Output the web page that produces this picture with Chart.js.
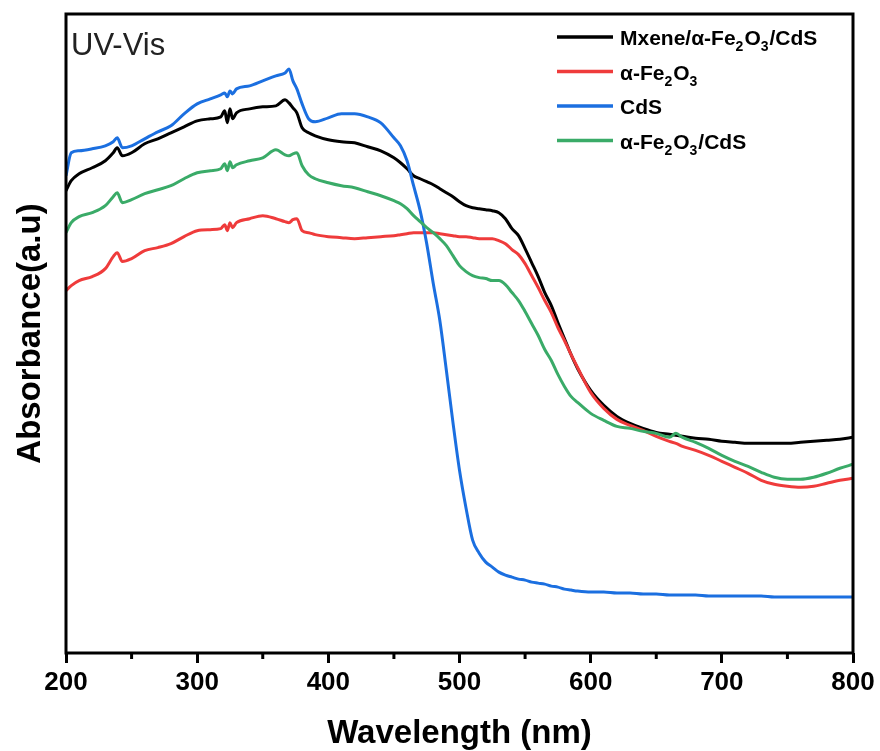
<!DOCTYPE html>
<html>
<head>
<meta charset="utf-8">
<script src="https://cdn.jsdelivr.net/npm/chart.js@4.4.1/dist/chart.umd.min.js"></script>
<style>
  html, body { margin: 0; padding: 0; background: #fff; }
  #wrap { width: 880px; height: 751px; }
</style>
</head>
<body>
<div id="wrap"><canvas id="uvChart" width="880" height="751"></canvas></div>
<script>
// wavelength grid (nm)
const wavelength = [200, 204, 210, 220, 230, 236, 239, 243, 250, 260, 270, 280, 290, 300, 310, 318, 321, 323, 325, 327,
    330, 340, 350, 360, 367, 370, 373, 376, 380, 385, 390, 400, 410, 420, 430, 440, 450, 455, 460, 465,
    470, 475, 480, 485, 490, 495, 500, 505, 510, 515, 520, 525, 530, 535, 540, 545, 550, 555, 560, 565,
    570, 575, 580, 585, 590, 600, 610, 620, 630, 640, 650, 660, 665, 670, 680, 690, 700, 710, 720, 730,
    740, 750, 760, 770, 780, 790, 800];

// absorbance (a.u.)
const absMxene = [2.315, 2.365, 2.40, 2.43, 2.465, 2.505, 2.53, 2.49, 2.505, 2.55, 2.575, 2.605, 2.635, 2.665, 2.675, 2.685, 2.715, 2.655, 2.725, 2.675,
    2.705, 2.725, 2.735, 2.74, 2.77, 2.755, 2.73, 2.705, 2.63, 2.605, 2.59, 2.57, 2.56, 2.555, 2.535, 2.515, 2.48, 2.455, 2.425, 2.39,
    2.375, 2.36, 2.345, 2.325, 2.305, 2.285, 2.26, 2.24, 2.23, 2.225, 2.22, 2.215, 2.205, 2.175, 2.125, 2.09, 2.025, 1.955, 1.885, 1.805,
    1.74, 1.655, 1.575, 1.495, 1.425, 1.315, 1.24, 1.185, 1.15, 1.125, 1.105, 1.095, 1.09, 1.085, 1.075, 1.07, 1.06, 1.055, 1.05, 1.05,
    1.05, 1.05, 1.055, 1.06, 1.065, 1.07, 1.08];

const absFe2O3 = [1.815, 1.84, 1.865, 1.885, 1.925, 1.985, 2.005, 1.96, 1.975, 2.015, 2.03, 2.05, 2.085, 2.115, 2.12, 2.125, 2.145, 2.115, 2.155, 2.13,
    2.155, 2.175, 2.19, 2.175, 2.16, 2.155, 2.17, 2.175, 2.115, 2.105, 2.095, 2.085, 2.08, 2.075, 2.08, 2.085, 2.09, 2.095, 2.10, 2.105,
    2.105, 2.105, 2.105, 2.10, 2.095, 2.09, 2.085, 2.085, 2.08, 2.075, 2.075, 2.075, 2.065, 2.05, 2.02, 1.995, 1.95, 1.89, 1.83, 1.765,
    1.705, 1.63, 1.565, 1.495, 1.43, 1.305, 1.225, 1.17, 1.14, 1.115, 1.085, 1.06, 1.05, 1.035, 1.015, 0.99, 0.96, 0.93, 0.90, 0.865,
    0.845, 0.835, 0.83, 0.835, 0.85, 0.865, 0.875];

const absCdS = [2.39, 2.505, 2.515, 2.525, 2.54, 2.56, 2.58, 2.53, 2.54, 2.575, 2.61, 2.64, 2.70, 2.75, 2.775, 2.795, 2.805, 2.785, 2.815, 2.80,
    2.825, 2.84, 2.865, 2.89, 2.905, 2.925, 2.865, 2.825, 2.75, 2.675, 2.66, 2.68, 2.70, 2.70, 2.685, 2.655, 2.58, 2.54, 2.465, 2.34,
    2.215, 2.05, 1.85, 1.665, 1.415, 1.155, 0.915, 0.725, 0.565, 0.50, 0.455, 0.43, 0.405, 0.39, 0.38, 0.37, 0.365, 0.355, 0.35, 0.345,
    0.335, 0.33, 0.32, 0.315, 0.31, 0.305, 0.305, 0.30, 0.30, 0.295, 0.295, 0.29, 0.29, 0.29, 0.29, 0.285, 0.285, 0.285, 0.285, 0.285,
    0.28, 0.28, 0.28, 0.28, 0.28, 0.28, 0.28];

const absFe2O3CdS = [2.105, 2.155, 2.185, 2.205, 2.24, 2.285, 2.305, 2.255, 2.27, 2.30, 2.32, 2.34, 2.375, 2.405, 2.415, 2.425, 2.45, 2.415, 2.46, 2.43,
    2.445, 2.465, 2.48, 2.52, 2.495, 2.49, 2.50, 2.505, 2.44, 2.395, 2.375, 2.355, 2.34, 2.33, 2.31, 2.29, 2.265, 2.25, 2.225, 2.19,
    2.16, 2.13, 2.105, 2.075, 2.04, 1.99, 1.94, 1.91, 1.89, 1.88, 1.875, 1.865, 1.865, 1.845, 1.805, 1.765, 1.71, 1.65, 1.59, 1.52,
    1.465, 1.395, 1.335, 1.285, 1.255, 1.20, 1.165, 1.135, 1.125, 1.11, 1.10, 1.08, 1.10, 1.08, 1.055, 1.025, 0.99, 0.96, 0.935, 0.905,
    0.88, 0.87, 0.87, 0.88, 0.90, 0.925, 0.945];

const seriesLabels = ['Mxene/α-Fe₂O₃/CdS', 'α-Fe₂O₃', 'CdS', 'α-Fe₂O₃/CdS'];
const seriesColors = ['#000000', '#ef3b3b', '#1b6fe0', '#3aab68'];
const xMinorTicks = [250, 350, 450, 550, 650, 750];

const FONT = '"Liberation Sans", Arial, Helvetica, sans-serif';
const SUBS = { '₂': '2', '₃': '3' };

function points(values) {
    return wavelength.map((w, i) => ({ x: w, y: values[i] }));
}

// draws a label, turning ₂ ₃ into real lowered subscripts
function drawLabel(ctx, text, x, y) {
    for (const ch of text) {
        if (SUBS[ch]) {
            ctx.font = 'bold 14px ' + FONT;
            ctx.fillText(SUBS[ch], x, y + 6);
            x += ctx.measureText(SUBS[ch]).width + 1;
        } else {
            ctx.font = 'bold 21px ' + FONT;
            ctx.fillText(ch, x, y);
            x += ctx.measureText(ch).width;
        }
    }
}

// frame, minor ticks, legend and the UV-Vis tag
const decorations = {
    id: 'decorations',
    afterDraw(chart) {
        const { ctx, chartArea: a, scales } = chart;
        ctx.save();
        ctx.strokeStyle = '#000';
        ctx.lineWidth = 3;
        ctx.strokeRect(a.left, a.top, a.right - a.left, a.bottom - a.top);

        xMinorTicks.forEach(v => {
            const x = scales.x.getPixelForValue(v);
            ctx.beginPath();
            ctx.moveTo(x, a.bottom);
            ctx.lineTo(x, a.bottom + 6);
            ctx.stroke();
        });

        ctx.font = '31px ' + FONT;
        ctx.fillStyle = '#222';
        ctx.textBaseline = 'alphabetic';
        ctx.fillText('UV-Vis', a.left + 5, 55);

        chart.data.datasets.forEach((ds, i) => {
            const y = 37 + i * 34.5;
            ctx.strokeStyle = ds.borderColor;
            ctx.lineWidth = 3.5;
            ctx.beginPath();
            ctx.moveTo(557, y);
            ctx.lineTo(613, y);
            ctx.stroke();
            ctx.fillStyle = '#000';
            drawLabel(ctx, ds.label, 620, y + 8);
        });
        ctx.restore();
    }
};

const orders = [3, 2, 1, 0];
const allValues = [absMxene, absFe2O3, absCdS, absFe2O3CdS];

new Chart(document.getElementById('uvChart'), {
    type: 'line',
    data: {
        datasets: allValues.map((vals, i) => ({
            label: seriesLabels[i],
            data: points(vals),
            borderColor: seriesColors[i],
            borderWidth: 3,
            pointRadius: 0,
            cubicInterpolationMode: 'monotone',
            order: orders[i]
        }))
    },
    options: {
        responsive: false,
        animation: false,
        layout: { padding: { left: 6, top: 14, right: 27, bottom: 0 } },
        plugins: { legend: { display: false }, tooltip: { enabled: false } },
        scales: {
            x: {
                type: 'linear',
                min: 200,
                max: 800,
                border: { display: false },
                grid: { drawOnChartArea: false, drawTicks: true, tickLength: 10, tickWidth: 3, tickColor: '#000' },
                ticks: { stepSize: 100, color: '#000', padding: 4, font: { family: FONT, size: 26, weight: 'bold' } },
                title: { display: true, text: 'Wavelength (nm)', color: '#000', padding: { top: 0, bottom: -3 },
                         font: { family: FONT, size: 33, weight: 'bold' } },
                afterFit(scale) { scale.height = 98; }
            },
            y: {
                min: 0,
                max: 3.2,
                border: { display: false },
                grid: { display: false },
                ticks: { display: false },
                title: { display: true, text: 'Absorbance(a.u)', color: '#000', padding: { top: 5, bottom: 0 },
                         font: { family: FONT, size: 33, weight: 'bold' } },
                afterFit(scale) { scale.width = 60; }
            }
        }
    },
    plugins: [decorations]
});
</script>
</body>
</html>
